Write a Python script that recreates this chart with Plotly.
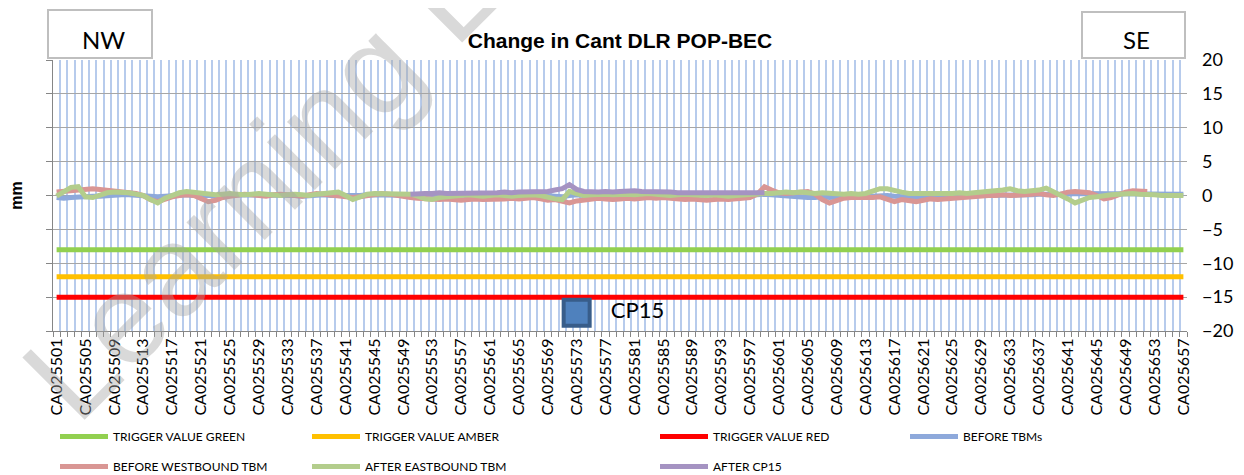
import plotly.graph_objects as go

# ---------------- data ----------------
categories = [f"CA025{n}" for n in range(501, 658)]
tick_labels = [c if i % 4 == 0 else "" for i, c in enumerate(categories)]

TRIGGER_GREEN = -8
TRIGGER_AMBER = -12
TRIGGER_RED = -15

before_tbms = [
    -0.3, -0.4, -0.3, -0.2, -0.2, -0.1, -0.1, 0.0, 0.0, 0.1,
    0.1, 0.0, 0.0, -0.1, -0.2, -0.1, 0.0, 0.1, 0.1, 0.0,
    0.0, 0.0, -0.1, 0.0, 0.1, 0.1, 0.0, 0.0, 0.1, 0.0,
    0.0, 0.1, 0.0, 0.0, -0.1, 0.0, 0.1, 0.1, 0.0, 0.0,
    -0.1, 0.0, 0.0, 0.1, 0.1, 0.0, 0.0, 0.1, 0.0, 0.0,
    0.0, -0.1, -0.1, 0.0, 0.0, 0.1, 0.0, 0.0, 0.1, 0.0,
    0.0, 0.0, 0.1, 0.0, 0.0, 0.1, 0.1, 0.0, 0.0, -0.1,
    -0.2, 0.0, 0.1, 0.0, 0.0, 0.1, 0.0, 0.0, 0.1, 0.1,
    0.0, 0.0, 0.1, 0.0, 0.0, 0.1, 0.0, 0.0, 0.0, 0.1,
    0.0, 0.0, 0.1, 0.0, 0.0, 0.0, 0.1, 0.1, 0.2, 0.1,
    0.0, 0.0, -0.1, -0.2, -0.3, -0.3, -0.2, -0.3, -0.2, -0.2,
    -0.1, -0.1, -0.2, -0.1, 0.0, 0.0, -0.1, -0.2, -0.3, -0.3,
    -0.2, -0.3, -0.3, -0.2, -0.2, -0.1, -0.1, 0.0, 0.0, 0.1,
    0.1, 0.1, 0.0, 0.0, 0.1, 0.1, 0.2, 0.2, 0.1, 0.2,
    0.2, 0.3, 0.3, 0.2, 0.2, 0.3, 0.3, 0.3, 0.2, 0.3,
    0.3, 0.3, 0.3, 0.3, 0.3, 0.2, 0.2,
]

before_westbound = [
    0.5, 0.6, 0.7, 0.8, 0.9, 1.0, 0.9, 0.8, 0.7, 0.6,
    0.5, 0.3, 0.0, -0.6, -0.9, -0.5, -0.2, 0.0, 0.1, 0.0,
    -0.4, -0.9, -0.7, -0.3, -0.1, 0.0, 0.2, 0.1, 0.0, -0.1,
    0.1, 0.2, 0.1, 0.0, -0.1, 0.1, 0.3, 0.2, 0.1, 0.0,
    -0.2, -0.3, -0.2, 0.0, 0.2, 0.3, 0.2, 0.0, -0.2, -0.3,
    -0.4, -0.5, -0.6, -0.6, -0.5, -0.6, -0.7, -0.6, -0.5, -0.6,
    -0.6, -0.5, -0.5, -0.4, -0.5, -0.4, -0.3, -0.5, -0.7, -0.6,
    -0.9, -1.1, -0.8, -0.7, -0.5, -0.4, -0.5, -0.6, -0.5, -0.4,
    -0.5, -0.4, -0.3, -0.4, -0.3, -0.4, -0.5, -0.6, -0.5, -0.6,
    -0.7, -0.6, -0.5, -0.6, -0.5, -0.4, -0.3, 0.2, 1.3, 0.8,
    0.4, 0.3, 0.4, 0.5, 0.6, 0.2, -0.6, -1.1, -0.8, -0.4,
    -0.3, -0.3, -0.4, -0.3, -0.2, -0.5, -0.9, -0.6, -0.7, -0.9,
    -0.7, -0.5, -0.6, -0.5, -0.5, -0.4, -0.3, -0.2, -0.1, 0.0,
    0.0, 0.1, 0.0, 0.0, 0.1, 0.2, 0.3, 0.1, 0.0, 0.2,
    0.5, 0.6, 0.5, 0.4, 0.0, -0.5, -0.3, 0.1, 0.5, 0.7,
    0.7, 0.6, None, None, None, None, None,
]

after_eastbound = [
    -0.1, 0.6, 1.2, 1.3, -0.2, -0.3, 0.1, 0.4, 0.5, 0.5,
    0.4, 0.2, 0.0, -0.6, -1.1, -0.4, 0.1, 0.4, 0.6, 0.5,
    0.3, 0.2, 0.1, 0.2, 0.3, 0.2, 0.1, 0.2, 0.3, 0.2,
    0.1, 0.0, 0.1, 0.2, 0.1, 0.0, 0.2, 0.3, 0.4, 0.5,
    0.0, -0.6, -0.2, 0.2, 0.3, 0.3, 0.2, 0.3, 0.3, 0.2,
    -0.1, -0.5, -0.6, -0.3, -0.2, -0.1, 0.0, 0.1, 0.0, -0.1,
    0.0, 0.1, 0.0, -0.1, 0.0, 0.1, 0.1, 0.0, -0.3, -0.5,
    -0.6, 0.6, 0.3, 0.0, 0.1, 0.2, 0.2, 0.1, 0.2, 0.2,
    0.1, 0.2, 0.3, 0.2, 0.1, 0.0, 0.1, 0.2, 0.1, 0.0,
    0.0, 0.1, 0.0, -0.1, 0.0, 0.1, 0.2, 0.2, 0.3, 0.3,
    0.4, 0.5, 0.4, 0.5, 0.4, 0.3, 0.4, 0.3, 0.2, 0.2,
    0.3, 0.2, 0.3, 0.6, 1.0, 1.0, 0.7, 0.5, 0.3, 0.3,
    0.2, 0.3, 0.3, 0.2, 0.3, 0.4, 0.3, 0.4, 0.5, 0.6,
    0.6, 0.8, 1.0, 0.7, 0.6, 0.7, 0.8, 1.1, 0.6, 0.2,
    -0.5, -1.1, -0.6, -0.3, -0.2, 0.0, 0.1, 0.2, 0.3, 0.3,
    0.2, 0.2, 0.1, 0.0, 0.0, 0.0, 0.0,
]

# AFTER CP15 covers CA025550 .. CA025599
after_cp15_categories = categories[49:99]
after_cp15 = [
    0.2,
    0.3, 0.3, 0.3, 0.4, 0.3, 0.3, 0.3, 0.4, 0.3, 0.3,
    0.4, 0.4, 0.5, 0.4, 0.5, 0.5, 0.5, 0.5, 0.6, 0.8,
    1.0, 1.6, 0.9, 0.6, 0.5, 0.5, 0.6, 0.5, 0.6, 0.7,
    0.7, 0.6, 0.6, 0.5, 0.6, 0.5, 0.4, 0.4, 0.4, 0.3,
    0.3, 0.3, 0.4, 0.3, 0.3, 0.3, 0.3, 0.4, 0.4,
]

CP15_CATEGORY = "CA025573"
CP15_VALUE = -17.3

# ---------------- styling ----------------
LEG_FONT = dict(family="Lato, sans-serif", size=12, color="#000000")
TICK_FONT = dict(family="Lato, Open Sans, sans-serif", size=16, color="#000000")

# layout measured in reference pixels; the page body adds an 8px offset
OFF = 8
PLOT_L, PLOT_R, PLOT_T, PLOT_B = 53, 1187, 60, 331
W, H = 1244 - OFF, 475 - OFF


def px_x(px):
    return (px - PLOT_L) / (PLOT_R - PLOT_L)


def px_y(py):
    return (PLOT_B - py) / (PLOT_B - PLOT_T)


fig = go.Figure()

ends = [categories[0], categories[-1]]
fig.add_trace(go.Scatter(x=ends, y=[TRIGGER_GREEN] * 2, mode="lines", name="TRIGGER VALUE GREEN",
                         line=dict(color="#92D050", width=5), legend="legend", legendgroup="g1"))
fig.add_trace(go.Scatter(x=ends, y=[TRIGGER_AMBER] * 2, mode="lines", name="TRIGGER VALUE AMBER",
                         line=dict(color="#FFC000", width=5), legend="legend2", legendgroup="g2"))
fig.add_trace(go.Scatter(x=ends, y=[TRIGGER_RED] * 2, mode="lines", name="TRIGGER VALUE RED",
                         line=dict(color="#FF0000", width=5), legend="legend3", legendgroup="g3"))
fig.add_trace(go.Scatter(x=categories, y=before_tbms, mode="lines", name="BEFORE TBMs",
                         line=dict(color="#8EA9DB", width=5), legend="legend4", legendgroup="g4"))
fig.add_trace(go.Scatter(x=categories, y=before_westbound, mode="lines", name="BEFORE WESTBOUND TBM",
                         line=dict(color="#D99694", width=5), legend="legend", legendgroup="g5",
                         connectgaps=False))
fig.add_trace(go.Scatter(x=categories, y=after_eastbound, mode="lines", name="AFTER EASTBOUND TBM",
                         line=dict(color="#B3CD8C", width=5), legend="legend2", legendgroup="g6"))
fig.add_trace(go.Scatter(x=after_cp15_categories, y=after_cp15, mode="lines", name="AFTER CP15",
                         line=dict(color="#A593C2", width=5), legend="legend3", legendgroup="g7"))

fig.add_trace(go.Scatter(x=[CP15_CATEGORY], y=[CP15_VALUE], mode="markers+text",
                         text=["\u00a0\u00a0\u00a0CP15"],
                         textposition="middle right",
                         textfont=dict(family="Lato, sans-serif", size=22, color="#000000"),
                         marker=dict(symbol="square", size=26, color="#4F81BD",
                                     line=dict(color="#385D8A", width=4)),
                         showlegend=False, yaxis="y2", cliponaxis=False))

leg_common = dict(orientation="v", xanchor="left", yanchor="top", font=LEG_FONT,
                  itemwidth=48, tracegroupgap=11, bgcolor="rgba(0,0,0,0)", borderwidth=0)
leg_top = px_y(422)
col_px = [55, 307, 655, 905]

fig.update_layout(
    width=W, height=H,
    margin=dict(l=PLOT_L - OFF, r=W - (PLOT_R - OFF), t=PLOT_T - OFF, b=H - (PLOT_B - OFF),
                autoexpand=False),
    paper_bgcolor="white", plot_bgcolor="white",
    title=dict(text="<b>Change in Cant DLR POP-BEC</b>", x=px_x(620), xref="paper", xanchor="center",
               y=1 - (41 - OFF) / H, yref="container", yanchor="middle",
               font=dict(family="Liberation Sans, Arial, sans-serif", size=21, color="#000000")),
    xaxis=dict(type="category", categoryorder="array", categoryarray=categories,
               range=[-0.5, len(categories) - 0.5],
               tickmode="array", tickvals=categories, ticktext=tick_labels,
               tickson="boundaries", ticks="outside", ticklen=5, tickcolor="#868686",
               tickangle=-90, tickfont=TICK_FONT,
               showgrid=True, gridcolor="#B7CBEC", gridwidth=2.2,
               showline=True, linecolor="#868686", linewidth=1, zeroline=False),
    yaxis=dict(range=[-20, 20], dtick=5, tick0=0, showticklabels=False,
               ticks="outside", ticklen=6, tickcolor="#868686",
               showline=True, linecolor="#868686", linewidth=1,
               showgrid=True, gridcolor="#A6A6A6", gridwidth=1, zeroline=False,
               title=dict(text="<b>mm</b>", standoff=22,
                          font=dict(family="Liberation Sans, Arial, sans-serif", size=16, color="#000"))),
    yaxis2=dict(range=[-20, 20], dtick=5, tick0=0, overlaying="y", side="right",
                showgrid=False, showline=False, zeroline=False, ticks="",
                ticklabelstandoff=14,
                tickfont=dict(family="Lato, Open Sans, sans-serif", size=18, color="#000000")),
    legend=dict(x=px_x(col_px[0]), y=leg_top, **leg_common),
    legend2=dict(x=px_x(col_px[1]), y=leg_top, **leg_common),
    legend3=dict(x=px_x(col_px[2]), y=leg_top, **leg_common),
    legend4=dict(x=px_x(col_px[3]), y=leg_top, **leg_common),
    showlegend=True,
)

# NW / SE boxes
for x0, x1, y0, y1, label in [(48, 152, 10, 58, "NW"), (1082, 1185, 12, 58, "SE")]:
    fig.add_shape(type="rect", xref="paper", yref="paper",
                  x0=px_x(x0), x1=px_x(x1), y0=px_y(y1), y1=px_y(y0),
                  line=dict(color="#BFBFBF", width=2), fillcolor="white", layer="above")
    fig.add_annotation(text=label, xref="paper", yref="paper",
                       x=px_x((x0 + x1) / 2 + 3), y=px_y(40), showarrow=False,
                       xanchor="center", yanchor="middle",
                       font=dict(family="Lato, sans-serif", size=24, color="#000000"))

# watermark
fig.add_annotation(text="Learning L", xref="paper", yref="paper",
                   x=px_x(259), y=px_y(182), showarrow=False, textangle=-45,
                   xanchor="center", yanchor="middle",
                   font=dict(family="Liberation Sans, Arial, sans-serif", size=128,
                             color="rgba(165,165,165,0.42)"))

fig.write_html("out.html")
